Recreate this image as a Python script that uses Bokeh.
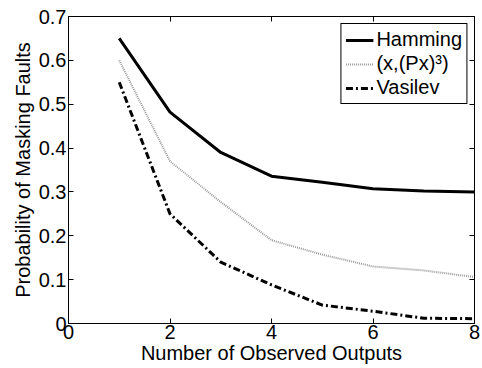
from bokeh.plotting import figure
from bokeh.models import Range1d, LinearAxis, FixedTicker, Legend, LegendItem, CustomJSTickFormatter
from bokeh.embed import file_html
from bokeh.resources import INLINE

outputs = [1, 2, 3, 4, 5, 6, 7, 8]
hamming = [0.65, 0.482, 0.39, 0.336, 0.322, 0.307, 0.302, 0.300]
px3 = [0.60, 0.37, 0.277, 0.19, 0.157, 0.13, 0.121, 0.106]
vasilev = [0.55, 0.25, 0.14, 0.088, 0.042, 0.028, 0.012, 0.011]

x_ticks = [0, 2, 4, 6, 8]
y_ticks = [0, 0.1, 0.2, 0.3, 0.4, 0.5, 0.6, 0.7]

FONT = "Liberation Sans"
FS = "20px"

p = figure(width=482, height=368, output_backend="svg", toolbar_location=None,
           x_range=Range1d(0, 8), y_range=Range1d(0, 0.7),
           min_border_left=68, min_border_right=8, min_border_top=16, min_border_bottom=45)
p.grid.visible = False
p.outline_line_color = "black"
p.background_fill_color = "white"

def style(ax, ticks):
    ax.ticker = FixedTicker(ticks=ticks)
    ax.major_tick_in = 5
    ax.major_tick_out = 0
    ax.minor_tick_line_color = None
    ax.axis_line_color = "black"
    ax.major_tick_line_color = "black"
    ax.major_label_text_font = FONT
    ax.major_label_text_font_size = FS
    ax.major_label_text_color = "black"
    ax.axis_label_text_font = FONT
    ax.axis_label_text_font_size = FS
    ax.axis_label_text_font_style = "normal"
    ax.axis_label_text_color = "black"

style(p.xaxis[0], x_ticks)
style(p.yaxis[0], y_ticks)
p.xaxis[0].axis_label = "Number of Observed Outputs"
p.yaxis[0].axis_label = "Probability of Masking Faults"
p.xaxis[0].major_label_standoff = 1
p.yaxis[0].major_label_standoff = 2
p.xaxis[0].axis_label_standoff = 0
p.yaxis[0].axis_label_standoff = 2

blank = "return ''"
top = LinearAxis(formatter=CustomJSTickFormatter(code=blank))
style(top, x_ticks)
top.major_label_standoff = 0
p.add_layout(top, "above")
right = LinearAxis(formatter=CustomJSTickFormatter(code=blank))
style(right, y_ticks)
right.major_label_standoff = 0
p.add_layout(right, "right")

r1 = p.line(outputs, hamming, line_color="black", line_width=3)
r2 = p.line(outputs, px3, line_color="#9a9a9a", line_width=2, line_dash="1 1")
r3 = p.line(outputs, vasilev, line_color="black", line_width=3, line_dash="7 3 2 3")

legend = Legend(items=[LegendItem(label="Hamming", renderers=[r1]),
                       LegendItem(label="(x,(Px)³)", renderers=[r2]),
                       LegendItem(label="Vasilev", renderers=[r3])],
                location="top_right")
legend.label_text_font = FONT
legend.label_text_font_size = FS
legend.label_text_color = "black"
legend.border_line_color = "black"
legend.border_line_width = 1
legend.border_line_alpha = 1
legend.background_fill_alpha = 1
legend.glyph_width = 28
legend.glyph_height = 22
legend.label_standoff = 3
legend.label_height = 22
legend.padding = 4
legend.spacing = 1
legend.margin = 7
p.add_layout(legend)

open("out.html", "w").write(file_html(p, INLINE))
